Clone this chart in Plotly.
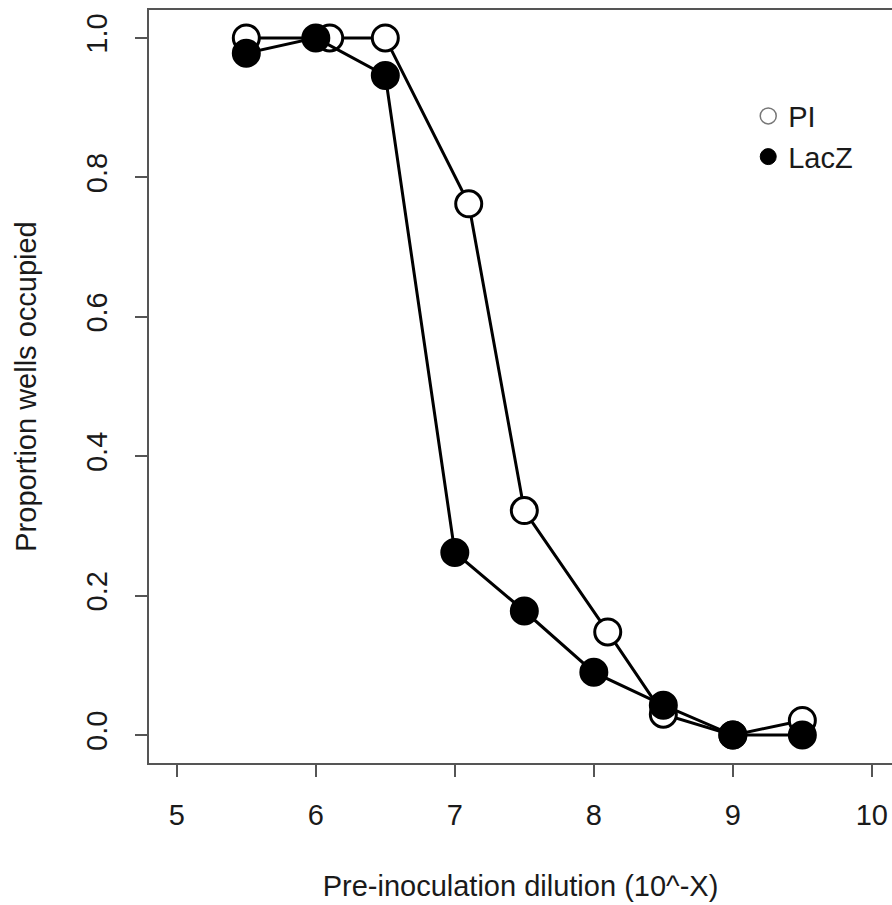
import plotly.graph_objects as go

# Data
pi_x = [5.5, 6.1, 6.5, 7.1, 7.5, 8.1, 8.5, 9.0, 9.5]
pi_y = [1.0, 1.0, 1.0, 0.762, 0.322, 0.148, 0.030, 0.0, 0.021]
lacz_x = [5.5, 6.0, 6.5, 7.0, 7.5, 8.0, 8.5, 9.0, 9.5]
lacz_y = [0.978, 1.0, 0.946, 0.262, 0.178, 0.090, 0.043, 0.0, 0.0]
x_ticks = [5, 6, 7, 8, 9, 10]
y_ticks = [0.0, 0.2, 0.4, 0.6, 0.8, 1.0]
y_tick_labels = ["0.0", "0.2", "0.4", "0.6", "0.8", "1.0"]

FONT = "Liberation Sans, Arial, sans-serif"
FS = 29

fig = go.Figure()
fig.add_trace(go.Scatter(
    x=pi_x, y=pi_y, mode="lines+markers", name="PI", showlegend=False,
    line=dict(color="black", width=3),
    marker=dict(symbol="circle", size=26, color="white",
                line=dict(color="black", width=3)),
))
fig.add_trace(go.Scatter(
    x=lacz_x, y=lacz_y, mode="lines+markers", name="LacZ", showlegend=False,
    line=dict(color="black", width=3),
    marker=dict(symbol="circle", size=26, color="black",
                line=dict(color="black", width=3)),
))
# legend entries (markers only, like the reference legend)
fig.add_trace(go.Scatter(
    x=[None], y=[None], mode="markers", name="PI",
    marker=dict(symbol="circle", size=24, color="white",
                line=dict(color="#777", width=1.5)),
))
fig.add_trace(go.Scatter(
    x=[None], y=[None], mode="markers", name="LacZ",
    marker=dict(symbol="circle", size=24, color="black",
                line=dict(color="black", width=1)),
))

fig.update_layout(
    width=892, height=905,
    margin=dict(l=149, r=0, t=10, b=142),
    paper_bgcolor="white", plot_bgcolor="white",
    font=dict(family=FONT, size=FS, color="#1a1a1a"),
    showlegend=True,
    legend=dict(x=0.8065, y=0.893, xanchor="left", yanchor="top",
                bgcolor="rgba(0,0,0,0)", font=dict(size=FS),
                tracegroupgap=0, itemwidth=30),
    xaxis=dict(
        range=[4.8, 10.145], tickvals=x_ticks, ticktext=[str(v) for v in x_ticks],
        showline=True, linecolor="#555", linewidth=2, mirror=True,
        ticks="outside", ticklen=12, tickwidth=1.5, tickcolor="#555",
        showgrid=False, zeroline=False,
        tickfont=dict(size=FS), ticklabelstandoff=13,
        title=dict(text="Pre-inoculation dilution (10^-X)", font=dict(size=FS), standoff=46),
        automargin=False,
    ),
    yaxis=dict(
        range=[-0.04, 1.04], tickvals=y_ticks, ticktext=y_tick_labels,
        showline=True, linecolor="#555", linewidth=2, mirror=False,
        ticks="outside", ticklen=12, tickwidth=1.5, tickcolor="#555",
        showgrid=False, zeroline=False, tickangle=-90,
        tickfont=dict(size=FS), ticklabelstandoff=16,
        title=dict(text="Proportion wells occupied", font=dict(size=FS), standoff=36),
        automargin=False,
    ),
)

fig.write_html("out.html")
